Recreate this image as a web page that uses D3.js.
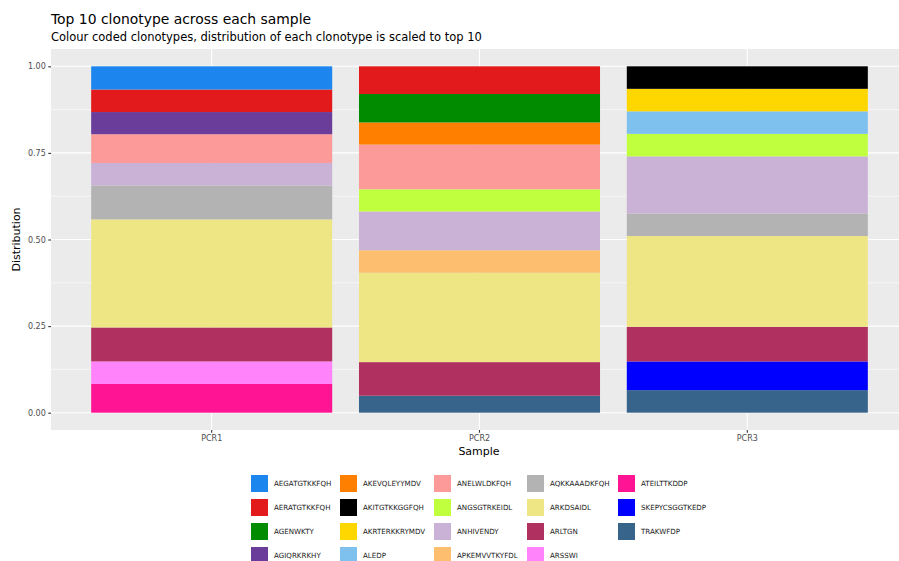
<!DOCTYPE html>
<html lang="en">
<head>
<meta charset="UTF-8">
<title>Top 10 clonotype across each sample</title>
<script src="https://d3js.org/d3.v7.min.js"></script>
<style>
  body { margin: 0; background: #fff; }
  text { font-family: "DejaVu Sans", sans-serif; }
</style>
</head>
<body>
<div id="chart"></div>
<script>
// Data
const samples = ["PCR1", "PCR2", "PCR3"];
const clonotypes = ["AEGATGTKKFQH", "AERATGTKKFQH", "AGENWKTY", "AGIQRKRKHY", "AKEVQLEYYMDV",
  "AKITGTKKGGFQH", "AKRTERKKRYMDV", "ALEDP", "ANELWLDKFQH", "ANGSGTRKEIDL", "ANHIVENDY",
  "APKEMVVTKYFDL", "AQKKAAADKFQH", "ARKDSAIDL", "ARLTGN", "ARSSWI", "ATEILTTKDDP",
  "SKEPYCSGGTKEDP", "TRAKWFDP"];
const clonoColors = ["#1C86EE", "#E31A1C", "#008B00", "#6A3D9A", "#FF7F00",
  "#000000", "#FFD700", "#7EC0EE", "#FB9A99", "#C0FF3E", "#CAB2D6",
  "#FDBF6F", "#B3B3B3", "#EEE685", "#B03060", "#FF83FA", "#FF1493",
  "#0000FF", "#36648B"];
const pcr1 = [0.067, 0.065, 0, 0.064, 0, 0, 0, 0, 0.083, 0, 0.065, 0, 0.098, 0.312, 0.098, 0.065, 0.083, 0, 0];
const pcr2 = [0, 0.080, 0.082, 0, 0.064, 0, 0, 0, 0.129, 0.064, 0.112, 0.065, 0, 0.258, 0.097, 0, 0, 0, 0.049];
const pcr3 = [0, 0, 0, 0, 0, 0.065, 0.065, 0.065, 0, 0.065, 0.165, 0, 0.065, 0.262, 0.100, 0, 0, 0.083, 0.065];
const yTicks = [0, 0.25, 0.5, 0.75, 1];

const W = 899, H = 561;
const panel = { left: 51, right: 908, top: 49, bottom: 430 };

const svg = d3.select("#chart").append("svg")
  .attr("width", W).attr("height", H);

// build stacked table (first clonotype on top, like ggplot)
const table = samples.map((s, i) => {
  const row = { sample: s };
  const vals = [pcr1, pcr2, pcr3][i];
  clonotypes.forEach((c, j) => row[c] = vals[j]);
  return row;
});
const stack = d3.stack().keys(clonotypes.slice().reverse());
const series = stack(table);

const color = d3.scaleOrdinal().domain(clonotypes).range(clonoColors);

const x = d3.scaleBand().domain(samples)
  .range([panel.left, panel.right])
  .paddingInner(0.1).paddingOuter(0.15);

// y with ggplot's 5% expansion
const y = d3.scaleLinear().domain([-0.05, 1.05]).range([panel.bottom, panel.top]);

// panel background
svg.append("rect")
  .attr("x", panel.left).attr("y", panel.top)
  .attr("width", W - panel.left).attr("height", panel.bottom - panel.top)
  .attr("fill", "#EBEBEB");

// minor grid
const minor = [0.125, 0.375, 0.625, 0.875];
svg.append("g").selectAll("line").data(minor).join("line")
  .attr("x1", panel.left).attr("x2", W)
  .attr("y1", d => y(d)).attr("y2", d => y(d))
  .attr("stroke", "#fff").attr("stroke-width", 0.55);

// major grid
svg.append("g").selectAll("line").data(yTicks).join("line")
  .attr("x1", panel.left).attr("x2", W)
  .attr("y1", d => y(d)).attr("y2", d => y(d))
  .attr("stroke", "#fff").attr("stroke-width", 1.1);
svg.append("g").selectAll("line").data(samples).join("line")
  .attr("x1", d => x(d) + x.bandwidth() / 2).attr("x2", d => x(d) + x.bandwidth() / 2)
  .attr("y1", panel.top).attr("y2", panel.bottom)
  .attr("stroke", "#fff").attr("stroke-width", 1.1);

// bars
svg.append("g").selectAll("g").data(series).join("g")
  .attr("fill", d => color(d.key))
  .selectAll("rect").data(d => d.filter(p => p[1] - p[0] > 0)).join("rect")
  .attr("x", d => x(d.data.sample))
  .attr("width", x.bandwidth())
  .attr("y", d => y(d[1]))
  .attr("height", d => y(d[0]) - y(d[1]));

// axes
const yAxis = svg.append("g")
  .attr("transform", `translate(${panel.left},0)`)
  .call(d3.axisLeft(y).tickValues(yTicks).tickFormat(d3.format(".2f")).tickSize(2.75).tickPadding(2.5));
const xAxis = svg.append("g")
  .attr("transform", `translate(0,${panel.bottom})`)
  .call(d3.axisBottom(x).tickSize(2.75).tickPadding(2.5));
[yAxis, xAxis].forEach(a => {
  a.select(".domain").remove();
  a.selectAll(".tick line").attr("stroke", "#333").attr("stroke-width", 1.1);
  a.selectAll(".tick text").attr("fill", "#4D4D4D").style("font-size", "8px")
    .style("font-family", "DejaVu Sans, sans-serif");
});

// titles
svg.append("text").attr("x", panel.left).attr("y", 24)
  .attr("font-size", 13.9).attr("fill", "#000")
  .text("Top 10 clonotype across each sample");
svg.append("text").attr("x", panel.left).attr("y", 41)
  .attr("font-size", 11.5).attr("fill", "#000")
  .text("Colour coded clonotypes, distribution of each clonotype is scaled to top 10");

svg.append("text")
  .attr("transform", `translate(20,${(panel.top + panel.bottom) / 2}) rotate(-90)`)
  .attr("text-anchor", "middle").attr("font-size", 11).attr("fill", "#000")
  .text("Distribution");
svg.append("text").attr("x", (panel.left + W) / 2 + 4).attr("y", 455)
  .attr("text-anchor", "middle").attr("font-size", 11).attr("fill", "#000")
  .text("Sample");

// legend: 5 columns filled top-to-bottom, 4 rows
const colX = [251, 340, 434, 527, 618];
const rowY = [475, 499, 523, 547];
const legend = svg.append("g").selectAll("g").data(clonotypes).join("g")
  .attr("transform", (d, i) => `translate(${colX[Math.floor(i / 4)]},${rowY[i % 4]})`);
legend.append("rect")
  .attr("width", 17).attr("height", 17)
  .attr("fill", d => color(d));
legend.append("text")
  .attr("x", 23).attr("y", 8.5).attr("dy", "0.35em")
  .attr("font-size", 7.1).attr("fill", "#1A1A1A")
  .text(d => d);
</script>
</body>
</html>
